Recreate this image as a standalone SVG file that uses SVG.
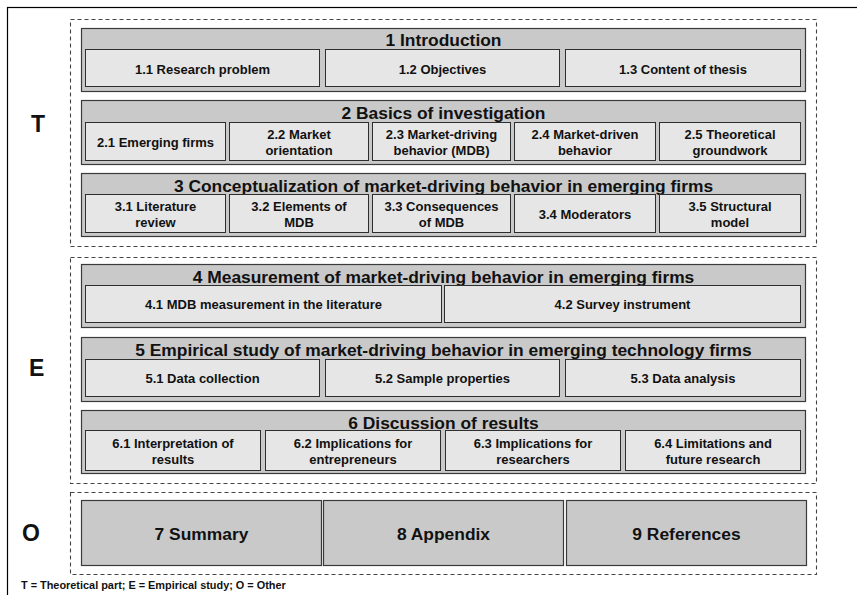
<svg xmlns="http://www.w3.org/2000/svg" width="857" height="595" viewBox="0 0 857 595">
  <style>
    .frame { fill: none; stroke: #000; stroke-width: 1.2; }
    .part { fill: none; stroke: #444; stroke-width: 1.1; stroke-dasharray: 4 3; }
    .chap { fill: #c9c9c9; stroke: #3a3a3a; stroke-width: 1.2; }
    .sub { fill: #e6e6e6; stroke: #2e2e2e; stroke-width: 1; }
    .big { fill: #c9c9c9; stroke: #3a3a3a; stroke-width: 1.2; }
    text { font-family: "Liberation Sans", Arial, sans-serif; font-weight: bold; fill: #111; text-anchor: middle; }
    .ttl { font-size: 17.4px; }
    .st { font-size: 13px; }
    .lbl { font-size: 23px; text-anchor: start; }
    .note { font-size: 10.9px; text-anchor: start; }
  </style>

  <!-- outer frame -->
  <rect class="frame" x="7.5" y="7.5" width="900" height="700"/>

  <!-- part frames -->
  <g id="parts">
    <rect class="part" x="70.5" y="19.5" width="746" height="227"/>
    <rect class="part" x="70.5" y="257.5" width="746" height="226"/>
    <rect class="part" x="70.5" y="492.5" width="746" height="82"/>
    <text class="lbl" x="31" y="132">T</text>
    <text class="lbl" x="29" y="376">E</text>
    <text class="lbl" x="22" y="541">O</text>
  </g>

  <!-- Chapter 1 -->
  <g id="ch1">
    <rect class="chap" x="81.5" y="28.5" width="724" height="63"/>
    <text class="ttl" x="443.5" y="46">1 Introduction</text>
    <rect class="sub" x="85.5" y="49.5" width="234" height="37"/>
    <text class="st" x="202.5" y="73.5">1.1 Research problem</text>
    <rect class="sub" x="325.5" y="49.5" width="234" height="37"/>
    <text class="st" x="442.5" y="73.5">1.2 Objectives</text>
    <rect class="sub" x="565.5" y="49.5" width="235" height="37"/>
    <text class="st" x="683" y="73.5">1.3 Content of thesis</text>
  </g>

  <!-- Chapter 2 -->
  <g id="ch2">
    <rect class="chap" x="81.5" y="100.5" width="724" height="64"/>
    <text class="ttl" x="443.5" y="119">2 Basics of investigation</text>
    <rect class="sub" x="85.5" y="122.5" width="140" height="38"/>
    <text class="st" x="155.5" y="146.5">2.1 Emerging firms</text>
    <rect class="sub" x="229.5" y="122.5" width="139" height="38"/>
    <text class="st" x="299" y="138.7">2.2 Market</text>
    <text class="st" x="299" y="154.7">orientation</text>
    <rect class="sub" x="372.5" y="122.5" width="138" height="38"/>
    <text class="st" x="441.5" y="138.7">2.3 Market-driving</text>
    <text class="st" x="441.5" y="154.7">behavior (MDB)</text>
    <rect class="sub" x="514.5" y="122.5" width="141" height="38"/>
    <text class="st" x="585" y="138.7">2.4 Market-driven</text>
    <text class="st" x="585" y="154.7">behavior</text>
    <rect class="sub" x="659.5" y="122.5" width="141" height="38"/>
    <text class="st" x="730" y="138.7">2.5 Theoretical</text>
    <text class="st" x="730" y="154.7">groundwork</text>
  </g>

  <!-- Chapter 3 -->
  <g id="ch3">
    <rect class="chap" x="81.5" y="173.5" width="724" height="63"/>
    <text class="ttl" x="443.5" y="191.5">3 Conceptualization of market-driving behavior in emerging firms</text>
    <rect class="sub" x="85.5" y="194.5" width="140" height="38"/>
    <text class="st" x="155.5" y="210.7">3.1 Literature</text>
    <text class="st" x="155.5" y="226.7">review</text>
    <rect class="sub" x="229.5" y="194.5" width="139" height="38"/>
    <text class="st" x="299" y="210.7">3.2 Elements of</text>
    <text class="st" x="299" y="226.7">MDB</text>
    <rect class="sub" x="372.5" y="194.5" width="138" height="38"/>
    <text class="st" x="441.5" y="210.7">3.3 Consequences</text>
    <text class="st" x="441.5" y="226.7">of MDB</text>
    <rect class="sub" x="514.5" y="194.5" width="141" height="38"/>
    <text class="st" x="585" y="218.5">3.4 Moderators</text>
    <rect class="sub" x="659.5" y="194.5" width="141" height="38"/>
    <text class="st" x="730" y="210.7">3.5 Structural</text>
    <text class="st" x="730" y="226.7">model</text>
  </g>

  <!-- Chapter 4 -->
  <g id="ch4">
    <rect class="chap" x="81.5" y="264.5" width="724" height="63"/>
    <text class="ttl" x="443.5" y="282.5">4 Measurement of market-driving behavior in emerging firms</text>
    <rect class="sub" x="85.5" y="285.5" width="356" height="37"/>
    <text class="st" x="263.5" y="309">4.1 MDB measurement in the literature</text>
    <rect class="sub" x="444.5" y="285.5" width="356" height="37"/>
    <text class="st" x="622.5" y="309">4.2 Survey instrument</text>
  </g>

  <!-- Chapter 5 -->
  <g id="ch5">
    <rect class="chap" x="81.5" y="337.5" width="724" height="64"/>
    <text class="ttl" x="443.5" y="356">5 Empirical study of market-driving behavior in emerging technology firms</text>
    <rect class="sub" x="85.5" y="359.5" width="234" height="37"/>
    <text class="st" x="202.5" y="383">5.1 Data collection</text>
    <rect class="sub" x="325.5" y="359.5" width="234" height="37"/>
    <text class="st" x="442.5" y="383">5.2 Sample properties</text>
    <rect class="sub" x="565.5" y="359.5" width="235" height="37"/>
    <text class="st" x="683" y="383">5.3 Data analysis</text>
  </g>

  <!-- Chapter 6 -->
  <g id="ch6">
    <rect class="chap" x="81.5" y="410.5" width="724" height="63"/>
    <text class="ttl" x="443.5" y="429">6 Discussion of results</text>
    <rect class="sub" x="85.5" y="430.5" width="175" height="40"/>
    <text class="st" x="173" y="447.5">6.1 Interpretation of</text>
    <text class="st" x="173" y="463.5">results</text>
    <rect class="sub" x="265.5" y="430.5" width="175" height="40"/>
    <text class="st" x="353" y="447.5">6.2 Implications for</text>
    <text class="st" x="353" y="463.5">entrepreneurs</text>
    <rect class="sub" x="445.5" y="430.5" width="175" height="40"/>
    <text class="st" x="533" y="447.5">6.3 Implications for</text>
    <text class="st" x="533" y="463.5">researchers</text>
    <rect class="sub" x="625.5" y="430.5" width="175" height="40"/>
    <text class="st" x="713" y="447.5">6.4 Limitations and</text>
    <text class="st" x="713" y="463.5">future research</text>
  </g>

  <!-- Chapters 7-9 -->
  <g id="ch7">
    <rect class="big" x="81.5" y="500.5" width="240" height="65"/>
    <text class="ttl" x="201.5" y="539.5">7 Summary</text>
  </g>
  <g id="ch8">
    <rect class="big" x="323.5" y="500.5" width="240" height="65"/>
    <text class="ttl" x="443.5" y="539.5">8 Appendix</text>
  </g>
  <g id="ch9">
    <rect class="big" x="566.5" y="500.5" width="240" height="65"/>
    <text class="ttl" x="686.5" y="539.5">9 References</text>
  </g>

  <!-- no connectors in this layout -->
  <g id="connectors"/>

  <text class="note" x="21" y="589">T = Theoretical part; E = Empirical study; O = Other</text>
</svg>
